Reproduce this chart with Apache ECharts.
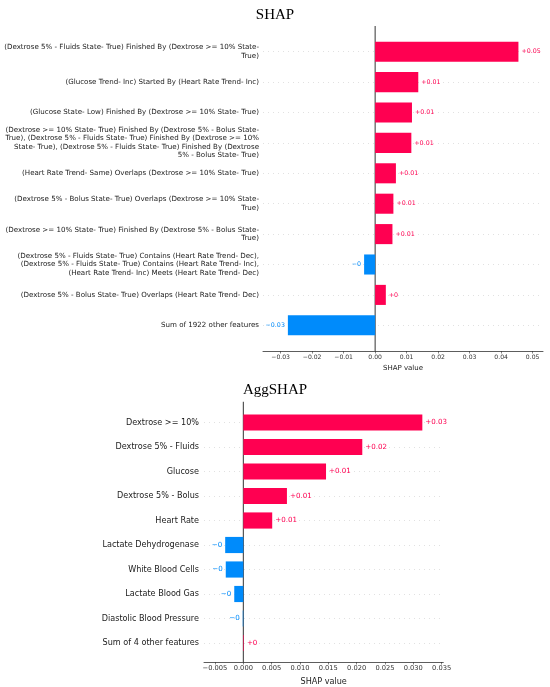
<!DOCTYPE html>
<html>
<head>
<meta charset="utf-8">
<script src="https://cdn.jsdelivr.net/npm/echarts@6/dist/echarts.min.js"></script>
<style>
  html, body { margin: 0; padding: 0; background: #fff; }
  #chart { width: 550px; height: 687px; }
</style>
</head>
<body>
<div id="chart"></div>
<script>
// SHAP (top panel)
const shapNames = [
  '(Dextrose 5% - Fluids State- True) Finished By (Dextrose >= 10% State-\nTrue)',
  '(Glucose Trend- Inc) Started By (Heart Rate Trend- Inc)',
  '(Glucose State- Low) Finished By (Dextrose >= 10% State- True)',
  '(Dextrose >= 10% State- True) Finished By (Dextrose 5% - Bolus State-\nTrue), (Dextrose 5% - Fluids State- True) Finished By (Dextrose >= 10%\nState- True), (Dextrose 5% - Fluids State- True) Finished By (Dextrose\n5% - Bolus State- True)',
  '(Heart Rate Trend- Same) Overlaps (Dextrose >= 10% State- True)',
  '(Dextrose 5% - Bolus State- True) Overlaps (Dextrose >= 10% State-\nTrue)',
  '(Dextrose >= 10% State- True) Finished By (Dextrose 5% - Bolus State-\nTrue)',
  '(Dextrose 5% - Fluids State- True) Contains (Heart Rate Trend- Dec),\n(Dextrose 5% - Fluids State- True) Contains (Heart Rate Trend- Inc),\n(Heart Rate Trend- Inc) Meets (Heart Rate Trend- Dec)',
  '(Dextrose 5% - Bolus State- True) Overlaps (Heart Rate Trend- Dec)',
  'Sum of 1922 other features'
]
const shapValues = [0.0455, 0.0137, 0.0117, 0.0115, 0.0066, 0.0058, 0.0055, -0.0035, 0.0034, -0.0277]
const shapTicks = [-0.03, -0.02, -0.01, 0, 0.01, 0.02, 0.03, 0.04, 0.05]

// AggSHAP (bottom panel)
const aggNames = [
  'Dextrose >= 10%',
  'Dextrose 5% - Fluids',
  'Glucose',
  'Dextrose 5% - Bolus',
  'Heart Rate',
  'Lactate Dehydrogenase',
  'White Blood Cells',
  'Lactate Blood Gas',
  'Diastolic Blood Pressure',
  'Sum of 4 other features'
]
const aggValues = [0.0316, 0.0210, 0.0146, 0.0077, 0.0051, -0.0032, -0.0031, -0.0016, -0.0001, 0.0001]
const aggTicks = [-0.005, 0, 0.005, 0.01, 0.015, 0.02, 0.025, 0.03, 0.035]

const RED = '#ff0051'
const BLUE = '#008bfb'
const FONT = 'DejaVu Sans'

const minus = '\u2212'
const fmtTick = d => v => (v < 0 ? minus : '') + Math.abs(v).toFixed(d)
const fmtVal = v => {
  const r = Math.abs(Math.round(v * 100) / 100)
  return (v < 0 ? minus : '+') + String(r)
}

const barData = (vals, size) => vals.map(v => ({
  value: v,
  itemStyle: { color: v < 0 ? BLUE : RED },
  label: { position: v < 0 ? 'left' : 'right', color: v < 0 ? BLUE : RED, fontSize: size }
}))

// panel = frame grid (axis line, ticks, zero line) + bar grid (categories)
const makePanel = (cfg) => {
  const { names, values, ticks, min, max, frame, bars, dec, labSize, lineH, tickSize, nameSize, nameGap, valSize, labMargin } = cfg
  return {
    grid: [
      Object.assign({ containLabel: false }, frame),
      Object.assign({ containLabel: false }, bars)
    ],
    xAxis: [
      {
        type: 'value', min, max,
        axisLine: { show: true, lineStyle: { color: '#333', width: 0.8 } },
        axisTick: { show: true, customValues: ticks, length: 2.5, lineStyle: { color: '#333', width: 0.6 } },
        axisLabel: { customValues: ticks, formatter: fmtTick(dec), fontSize: tickSize, color: '#333', fontFamily: FONT, margin: 3 },
        splitLine: { show: false },
        name: 'SHAP value', nameLocation: 'middle', nameGap,
        nameTextStyle: { fontSize: nameSize, color: '#222', fontFamily: FONT }
      },
      { type: 'value', min, max, show: false }
    ],
    yAxis: [
      { type: 'value', min: 0, max: 1, show: false },
      {
        type: 'category', data: names, inverse: true,
        axisLine: { show: false }, axisTick: { show: false }, splitLine: { show: false },
        axisLabel: { interval: 0, fontSize: labSize, lineHeight: lineH, color: '#1a1a1a', fontFamily: FONT, margin: labMargin, align: 'right' }
      }
    ],
    series: [
      {
        type: 'line', data: [[0, 0], [0, 1]], symbol: 'none', silent: true, z: 1,
        lineStyle: { color: '#333', width: 1 }
      },
      {
        type: 'bar', data: barData(values, valSize), barWidth: '66%', z: 3,
        label: { show: true, distance: 3, fontFamily: FONT, formatter: p => fmtVal(p.value) },
        markLine: {
          silent: true, symbol: 'none', z: 0,
          label: { show: false },
          lineStyle: { color: '#cccccc', width: 0.6, type: [1, 4] },
          data: names.map(n => ({ yAxis: n }))
        }
      }
    ]
  }
}

const shapPanel = makePanel({
  names: shapNames, values: shapValues, ticks: shapTicks,
  min: -0.0356, max: 0.0533, dec: 2,
  frame: { left: 263, right: 7, top: 26, bottom: 336 },
  bars: { left: 263, right: 7, top: 36.5, bottom: 346.5 },
  labSize: 7.1, lineH: 8.5, tickSize: 6.1, nameSize: 7, nameGap: 14, valSize: 6.3, labMargin: 4
})
const aggPanel = makePanel({
  names: aggNames, values: aggValues, ticks: aggTicks,
  min: -0.00694, max: 0.0353, dec: 3,
  frame: { left: 204, right: 106.7, top: 401.7, bottom: 24.3 },
  bars: { left: 204, right: 106.7, top: 410.25, bottom: 31.75 },
  labSize: 8.1, lineH: 10, tickSize: 6.7, nameSize: 8.1, nameGap: 16, valSize: 7.1, labMargin: 5
})

// merge the two panels into one option, re-indexing axes
const shift = (s, k) => Object.assign({}, s, { xAxisIndex: s.type === 'line' ? k : k + 1, yAxisIndex: s.type === 'line' ? k : k + 1 })
const option = {
  animation: false,
  backgroundColor: '#fff',
  title: [
    { text: 'SHAP', left: 'center', top: 3, textStyle: { fontFamily: 'Liberation Serif', fontSize: 15, fontWeight: 'normal', color: '#000' } },
    { text: 'AggSHAP', left: 'center', top: 378, textStyle: { fontFamily: 'Liberation Serif', fontSize: 15, fontWeight: 'normal', color: '#000' } }
  ],
  grid: shapPanel.grid.concat(aggPanel.grid),
  xAxis: shapPanel.xAxis.map((a, i) => Object.assign({ gridIndex: i }, a))
    .concat(aggPanel.xAxis.map((a, i) => Object.assign({ gridIndex: i + 2 }, a))),
  yAxis: shapPanel.yAxis.map((a, i) => Object.assign({ gridIndex: i }, a))
    .concat(aggPanel.yAxis.map((a, i) => Object.assign({ gridIndex: i + 2 }, a))),
  series: shapPanel.series.map(s => shift(s, 0)).concat(aggPanel.series.map(s => shift(s, 2)))
}

const chart = echarts.init(document.getElementById('chart'), null, { renderer: 'canvas' })
chart.setOption(option)
</script>
</body>
</html>
